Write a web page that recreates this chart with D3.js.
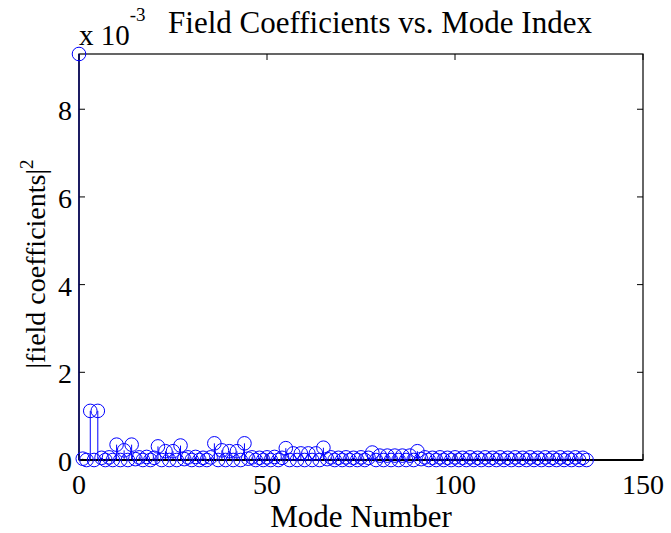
<!DOCTYPE html>
<html>
<head>
<meta charset="utf-8">
<script src="https://cdn.jsdelivr.net/npm/d3@7"></script>
<style>
  body { margin: 0; background: #fff; }
  text { font-family: "Liberation Serif", "Times New Roman", serif; fill: #000; }
</style>
</head>
<body>
<div id="chart"></div>
<script>
// mode index 0..135, |coefficient|^2 in units of 1e-3
var modeIndex = d3.range(0, 136);
var coeffSq = [
  9.26, 0.03, 0.00, 1.12, 0.00, 1.12, 0.05, 0.00, 0.06, 0.00,
  0.35, 0.00, 0.22, 0.00, 0.35, 0.02, 0.06, 0.00, 0.07, 0.00,
  0.05, 0.31, 0.00, 0.20, 0.00, 0.20, 0.00, 0.33, 0.02, 0.06,
  0.00, 0.07, 0.00, 0.05, 0.00, 0.06, 0.38, 0.00, 0.22, 0.00,
  0.20, 0.00, 0.20, 0.00, 0.38, 0.03, 0.06, 0.00, 0.05, 0.00,
  0.06, 0.00, 0.07, 0.00, 0.05, 0.27, 0.00, 0.15, 0.00, 0.15,
  0.00, 0.15, 0.00, 0.15, 0.00, 0.28, 0.02, 0.06, 0.00, 0.05,
  0.00, 0.06, 0.00, 0.05, 0.00, 0.06, 0.00, 0.05, 0.17, 0.00,
  0.10, 0.00, 0.10, 0.00, 0.10, 0.00, 0.10, 0.00, 0.10, 0.00,
  0.20, 0.02, 0.06, 0.00, 0.05, 0.00, 0.06, 0.00, 0.05, 0.00,
  0.06, 0.00, 0.05, 0.00, 0.06, 0.00, 0.05, 0.00, 0.06, 0.00,
  0.05, 0.00, 0.06, 0.00, 0.05, 0.00, 0.06, 0.00, 0.05, 0.00,
  0.06, 0.00, 0.05, 0.00, 0.06, 0.00, 0.05, 0.00, 0.06, 0.00,
  0.05, 0.00, 0.06, 0.00, 0.05, 0.00
];
var xTicks = [0, 50, 100, 150];
var yTicks = [0, 2, 4, 6, 8];

var svgWidth = 671, svgHeight = 533;
var margin = { top: 54, right: 28, bottom: 73, left: 79 };
var width = svgWidth - margin.left - margin.right;
var height = svgHeight - margin.top - margin.bottom;

var svg = d3.select('#chart').append('svg')
    .attr('width', svgWidth)
    .attr('height', svgHeight)
    .style('display', 'block');

var g = svg.append('g')
    .attr('transform', `translate(${margin.left}, ${margin.top})`);

var x = d3.scaleLinear().domain([0, 150]).range([0, width]);
var y = d3.scaleLinear().domain([0, d3.max(coeffSq)]).range([height, 0]);

var data = modeIndex.map((m, i) => [m, coeffSq[i]]);

// box
g.append('rect')
    .attr('width', width)
    .attr('height', height)
    .style('fill', 'none')
    .style('stroke', '#000')
    .style('stroke-width', 1.2);

// inward ticks on all four sides
var tickLen = 6;
xTicks.forEach(t => {
    g.append('line').attr('x1', x(t)).attr('x2', x(t)).attr('y1', height).attr('y2', height - tickLen)
        .style('stroke', '#000');
    g.append('line').attr('x1', x(t)).attr('x2', x(t)).attr('y1', 0).attr('y2', tickLen)
        .style('stroke', '#000');
});
yTicks.forEach(t => {
    g.append('line').attr('x1', 0).attr('x2', tickLen).attr('y1', y(t)).attr('y2', y(t))
        .style('stroke', '#000');
    g.append('line').attr('x1', width).attr('x2', width - tickLen).attr('y1', y(t)).attr('y2', y(t))
        .style('stroke', '#000');
});

// tick labels
g.selectAll('.xlab').data(xTicks).enter().append('text')
    .attr('class', 'xlab')
    .attr('x', d => x(d))
    .attr('y', height + 34)
    .attr('text-anchor', 'middle')
    .style('font-size', '28px')
    .text(d => d);
g.selectAll('.ylab').data(yTicks).enter().append('text')
    .attr('class', 'ylab')
    .attr('x', -7)
    .attr('y', d => y(d) + 11)
    .attr('text-anchor', 'end')
    .style('font-size', '28px')
    .text(d => d);

// stems
g.selectAll('.stem').data(data).enter().append('line')
    .attr('class', 'stem')
    .attr('x1', d => x(d[0]))
    .attr('x2', d => x(d[0]))
    .attr('y1', y(0))
    .attr('y2', d => y(d[1]))
    .style('stroke', '#0000ff')
    .style('stroke-width', 1);

// left axis drawn over the first stem, giving the navy look
g.append('line')
    .attr('x1', 0).attr('x2', 0).attr('y1', 0).attr('y2', height)
    .style('stroke', '#000')
    .style('stroke-opacity', 0.45)
    .style('stroke-width', 2);

// baseline
g.append('line')
    .attr('x1', 0).attr('x2', width)
    .attr('y1', y(0)).attr('y2', y(0))
    .style('stroke', '#000')
    .style('stroke-width', 2);

// markers
g.selectAll('.mark').data(data).enter().append('circle')
    .attr('class', 'mark')
    .attr('cx', d => x(d[0]))
    .attr('cy', d => y(d[1]))
    .attr('r', 6.8)
    .style('fill', 'none')
    .style('stroke', '#0000ff')
    .style('stroke-width', 1);

// exponent label
var expo = svg.append('text')
    .attr('x', 79)
    .attr('y', 45)
    .style('font-size', '29px');
expo.append('tspan').text('x 10');
expo.append('tspan').attr('dy', -24).style('font-size', '19px').text('-3');

// title
svg.append('text')
    .attr('x', 380)
    .attr('y', 33)
    .attr('text-anchor', 'middle')
    .style('font-size', '31px')
    .text('Field Coefficients vs. Mode Index');

// x label
svg.append('text')
    .attr('x', margin.left + width / 2)
    .attr('y', 527)
    .attr('text-anchor', 'middle')
    .style('font-size', '31px')
    .text('Mode Number');

// y label
var yl = svg.append('text')
    .attr('transform', 'translate(45, 264) rotate(-90)')
    .attr('text-anchor', 'middle')
    .style('font-size', '28px');
yl.append('tspan').text('|field coefficients|');
yl.append('tspan').attr('dy', -12).style('font-size', '19px').text('2');
</script>
</body>
</html>
